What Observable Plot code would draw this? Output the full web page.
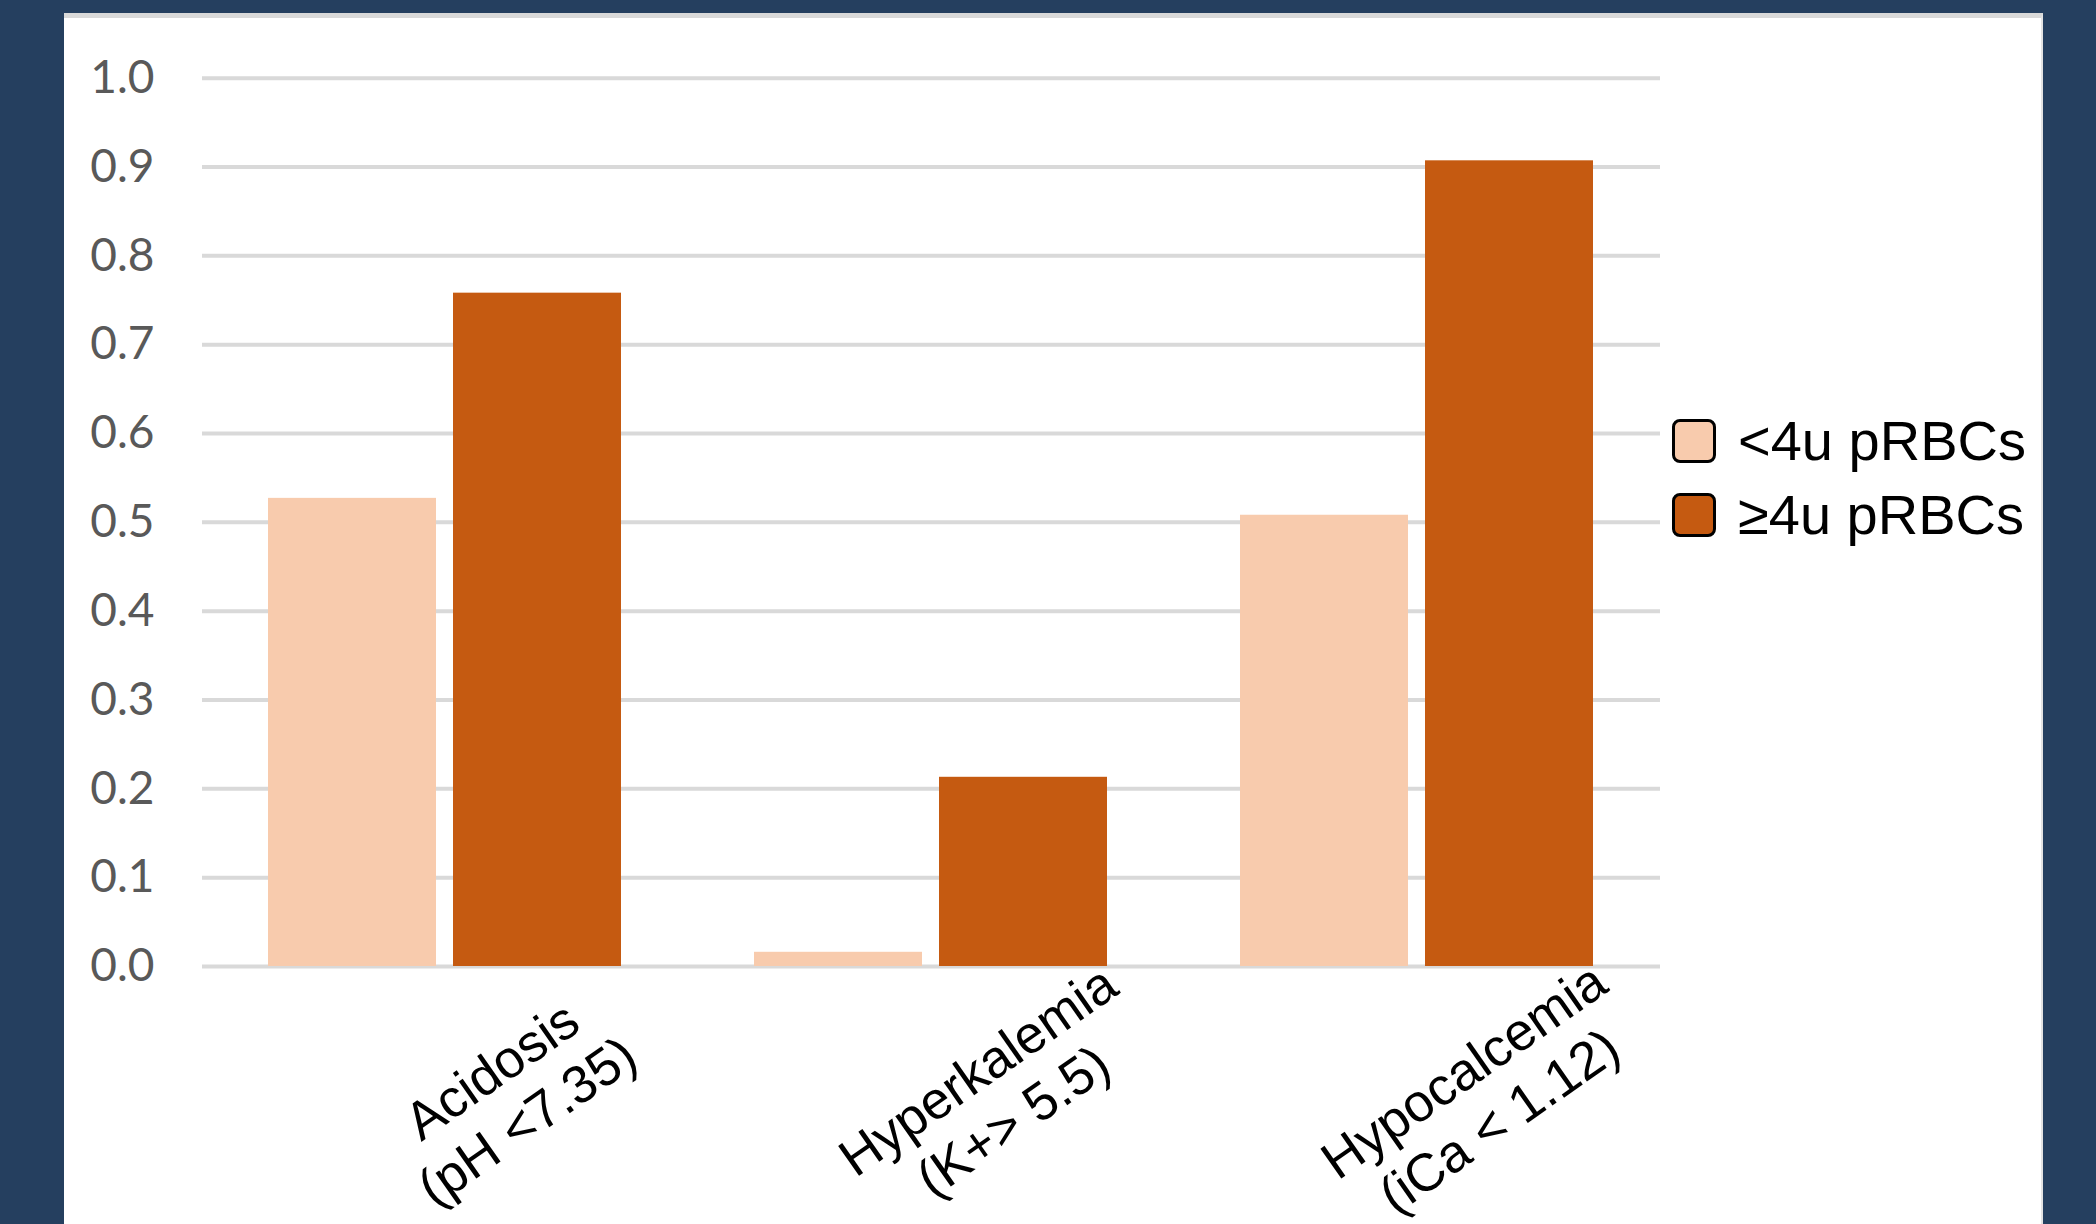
<!DOCTYPE html>
<html><head><meta charset="utf-8">
<script src="https://cdn.jsdelivr.net/npm/d3@7"></script>
<script src="https://cdn.jsdelivr.net/npm/@observablehq/plot@0.6"></script>
<style>
html,body{margin:0;padding:0;}
body{width:2096px;height:1224px;overflow:hidden;background:#253f5f;position:relative;font-family:"Liberation Sans",Arial,sans-serif;}
#panel{position:absolute;left:64px;top:13px;width:1977px;height:1300px;background:#fff;border-top:5px solid #d9d9d9;border-right:2px solid #e3e3e3;}
#chart{position:absolute;left:64px;top:18px;}
#legend{position:absolute;left:1672px;top:419px;}
.row{display:flex;align-items:center;height:44px;margin-bottom:30px;}
.sw{width:38px;height:38px;border:3px solid #000;border-radius:8px;box-sizing:content-box;flex:none;}
.lab{margin-left:22px;font-size:56px;line-height:44px;color:#000;white-space:nowrap;}
</style></head><body>
<div id="panel"></div><div id="chart"></div><div id="legend"></div>
<script>
const categories = ["Acidosis", "Hyperkalemia", "Hypocalcemia"];
const criteria = ["(pH <7.35)", "(K+> 5.5)", "(iCa < 1.12)"];
const series = ["<4u pRBCs", "≥4u pRBCs"];
const lowValues = [0.527, 0.016, 0.508];
const highValues = [0.758, 0.213, 0.907];
const seriesColors = ["#F8CBAD", "#C55A11"];
const yTicks = [0, 0.1, 0.2, 0.3, 0.4, 0.5, 0.6, 0.7, 0.8, 0.9, 1.0];

const rows = categories.flatMap((c, i) => [
  {category: c, series: series[0], value: lowValues[i]},
  {category: c, series: series[1], value: highValues[i]}
]);
const labels = categories.map((c, i) => ({category: c, text: c + "\n" + criteria[i]}));

const chart = Plot.plot({
  width: 1979, height: 1206,
  marginLeft: 138, marginRight: 383, marginTop: 59.7, marginBottom: 258,
  style: {background: "none", overflow: "visible", fontFamily: "'Liberation Sans', Arial, sans-serif"},
  fx: {domain: categories, padding: 0, axis: null},
  x: {domain: series, paddingInner: 0.09, paddingOuter: 0.352, axis: null},
  y: {domain: [0, 1]},
  color: {domain: series, range: seriesColors},
  marks: [
    Plot.ruleY(yTicks, {stroke: "#d9d9d9", strokeWidth: 4}),
    Plot.axisY({ticks: yTicks, tickFormat: d3.format(".1f"), tickSize: 0, tickPadding: 48,
      fontSize: 46, fontFamily: "Lato", color: "#595959", label: null}),
    Plot.barY(rows, {fx: "category", x: "series", y: "value", fill: "series"}),
    Plot.text(labels, {fx: "category", text: "text", frameAnchor: "bottom", dx: 63, dy: 128,
      rotate: -35, textAnchor: "middle", lineAnchor: "middle", lineHeight: 1.16,
      fontSize: 53, fill: "#000"})
  ]
});
document.getElementById("chart").appendChild(chart);

const legend = document.getElementById("legend");
series.forEach((s, i) => {
  const row = document.createElement("div");
  row.className = "row";
  const sw = document.createElement("div");
  sw.className = "sw";
  sw.style.background = seriesColors[i];
  const lab = document.createElement("div");
  lab.className = "lab";
  lab.textContent = s;
  row.appendChild(sw); row.appendChild(lab);
  legend.appendChild(row);
});
</script>
</body></html>
